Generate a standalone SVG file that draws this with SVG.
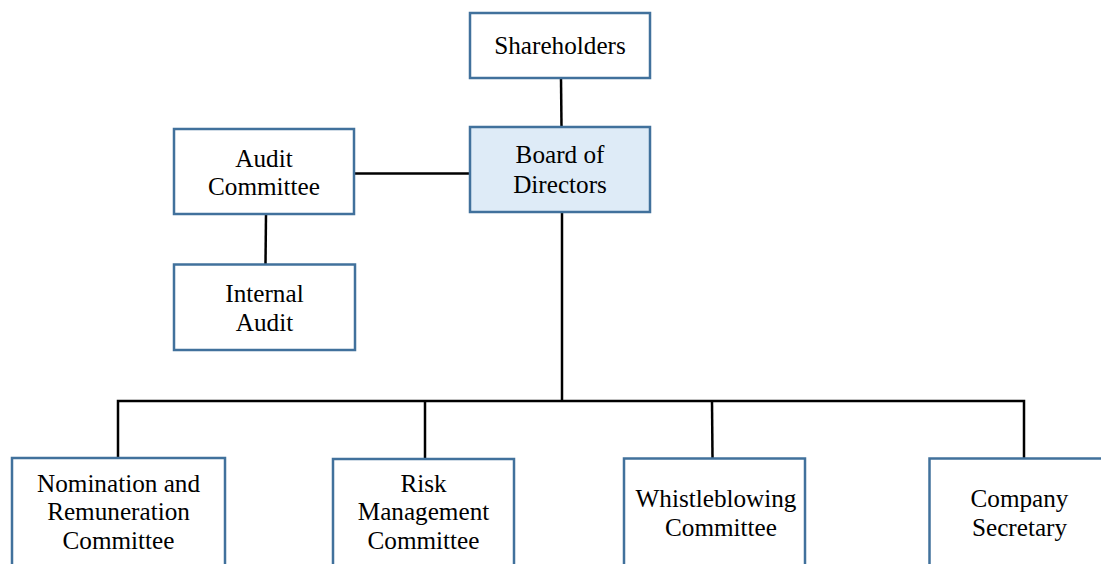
<svg xmlns="http://www.w3.org/2000/svg" width="1101" height="564" viewBox="0 0 1101 564">
<style>
.box{fill:#ffffff;stroke:#41719C;stroke-width:2.5}
.hl{fill:#DEEBF7}
.t{font-family:'Liberation Serif','Times New Roman',serif;font-size:25.2px;fill:#000;text-anchor:middle}
.c{stroke:#000;stroke-width:2.5;fill:none}
</style>
<rect width="1101" height="564" fill="#ffffff"/>
<g id="connectors">
<line class="c" x1="561" y1="78" x2="561.5" y2="127"/>
<line class="c" x1="354" y1="173.5" x2="470" y2="173.5"/>
<line class="c" x1="266" y1="214" x2="265.5" y2="264"/>
<line class="c" x1="562" y1="212" x2="562" y2="401"/>
<polyline class="c" points="118,458 118,401 1024,401 1024,458"/>
<line class="c" x1="425" y1="401" x2="425" y2="459"/>
<line class="c" x1="712" y1="401" x2="712.5" y2="458"/>
</g>
<g id="shareholders">
<rect class="box" x="470" y="13" width="180" height="65"/>
<text class="t" x="560" y="54">Shareholders</text>
</g>
<g id="board">
<rect class="box hl" x="470" y="127" width="180" height="85"/>
<text class="t" x="560" y="163">Board of</text>
<text class="t" x="560" y="192.5">Directors</text>
</g>
<g id="audit-committee">
<rect class="box" x="174" y="129" width="180" height="85"/>
<text class="t" x="264" y="166.5">Audit</text>
<text class="t" x="264" y="195">Committee</text>
</g>
<g id="internal-audit">
<rect class="box" x="174" y="264.5" width="181" height="85.5"/>
<text class="t" x="264.5" y="301.5">Internal</text>
<text class="t" x="264.5" y="330.5">Audit</text>
</g>
<g id="nomination">
<rect class="box" x="12" y="458" width="213" height="130"/>
<text class="t" x="118.5" y="491.5">Nomination and</text>
<text class="t" x="118.5" y="520">Remuneration</text>
<text class="t" x="118.5" y="548.5">Committee</text>
</g>
<g id="risk">
<rect class="box" x="333" y="459" width="181" height="130"/>
<text class="t" x="423.5" y="491.5">Risk</text>
<text class="t" x="423.5" y="520">Management</text>
<text class="t" x="423.5" y="548.5">Committee</text>
</g>
<g id="whistleblowing">
<rect class="box" x="624" y="458.5" width="181" height="130"/>
<text class="t" x="716" y="506.5">Whistleblowing</text>
<text class="t" x="721" y="535.5">Committee</text>
</g>
<g id="company-secretary">
<rect class="box" x="929.5" y="458.5" width="181" height="130"/>
<text class="t" x="1019.5" y="506.5">Company</text>
<text class="t" x="1019.5" y="535.5">Secretary</text>
</g>
</svg>
